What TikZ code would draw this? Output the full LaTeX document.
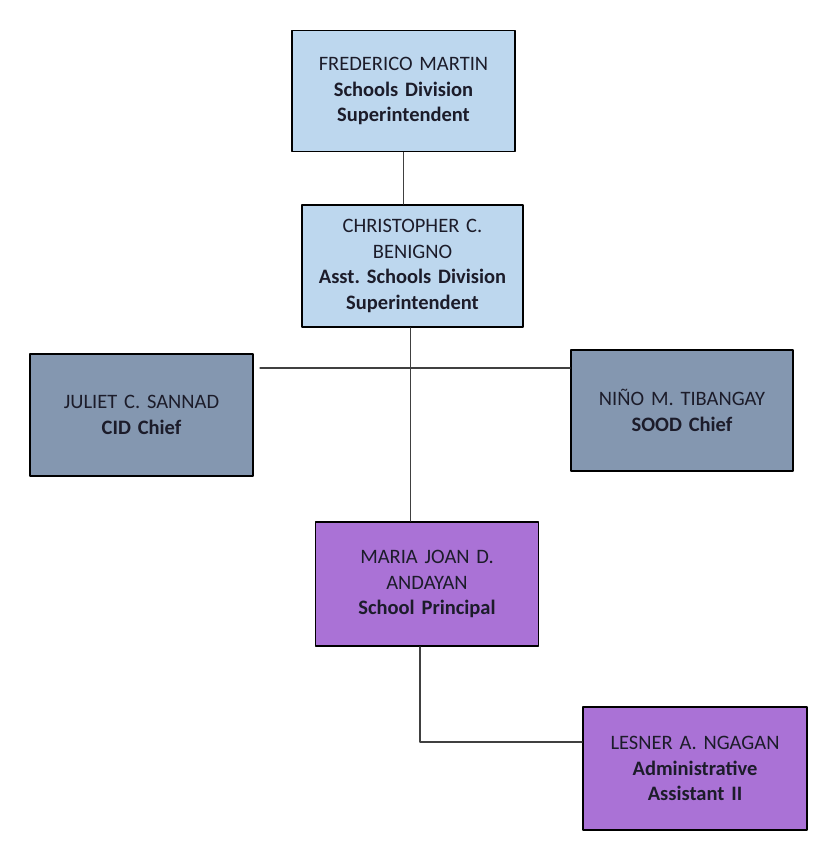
\documentclass[tikz,border=0pt]{standalone}
\usepackage{fontspec}
\setmainfont{Carlito}
\usetikzlibrary{calc,positioning}
\definecolor{orgSky}{HTML}{BDD7EE}
\definecolor{orgSlate}{HTML}{8497B0}
\definecolor{orgViolet}{HTML}{AA72D6}
\definecolor{orgInk}{HTML}{1C1C2A}
\definecolor{orgLink}{HTML}{404040}
\frenchspacing
\begin{document}
\begin{tikzpicture}[x=1pt,y=-1pt,line cap=round,line join=round]
\path[fill=white] (0,0) rectangle (832,856);
\tikzset{card/.style={draw=black,line width=1.8pt,text=orgInk,align=center,text width=212pt,font=\fontsize{20.5}{25.5}\selectfont},sky/.style={card,fill=orgSky},slate/.style={card,fill=orgSlate},violet/.style={card,fill=orgViolet},link/.style={draw=orgLink,line width=1.1pt}}
\node[sky,minimum width=223pt,minimum height=121pt] (sds) at (403.5,91) {FREDERICO MARTIN\\\textbf{Schools Division}\\\textbf{Superintendent}};
\node[sky,minimum width=221pt,minimum height=122pt] (asds) at (412.5,266) {CHRISTOPHER C.\\BENIGNO\\\textbf{Asst. Schools Division}\\\textbf{Superintendent}};
\node[slate,minimum width=223pt,minimum height=122pt] (cid) at (141.5,415) {JULIET C. SANNAD\\\textbf{CID Chief}};
\node[slate,minimum width=222pt,minimum height=121pt] (sood) at (682,410.5) {NIÑO M. TIBANGAY\\\textbf{SOOD Chief}};
\node[violet,minimum width=223pt,minimum height=124pt] (principal) at (427,584) {MARIA JOAN D.\\ANDAYAN\\\textbf{School Principal}};
\node[violet,minimum width=224pt,minimum height=123pt] (admin) at (695,768.5) {LESNER A. NGAGAN\\\textbf{Administrative}\\\textbf{Assistant II}};
\coordinate (tee) at (260,368);
\coordinate (bend) at (420,742);
\draw[link] (sds.south) -- (sds.south |- asds.north);
\draw[link] ($(asds.south)+(-2,0)$) -- ($(asds.south |- principal.north)+(-2,0)$);
\draw[link] (tee) -- (tee -| sood.west);
\draw[link] (principal.south -| bend) -- (bend) -- (bend -| admin.west);
\end{tikzpicture}
\end{document}
